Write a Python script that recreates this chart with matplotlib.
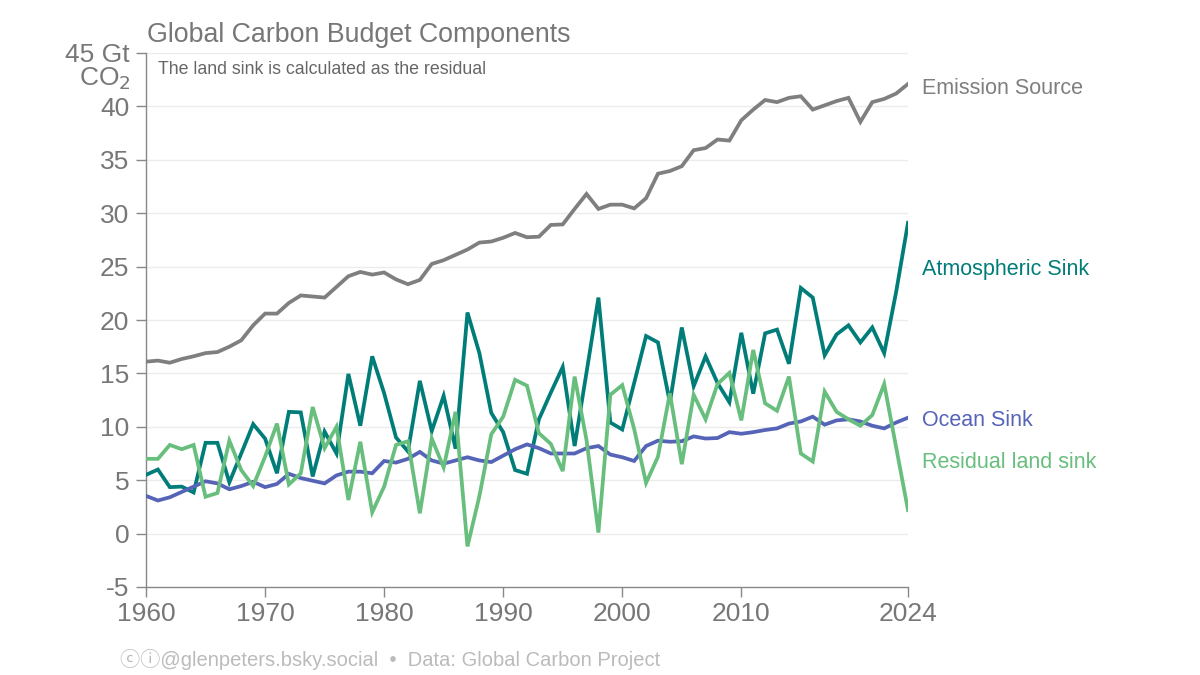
import matplotlib.pyplot as plt
import numpy as np

plt.rcParams['font.family'] = ['Liberation Sans', 'DejaVu Sans']

# ── Data (Gt CO2 / yr) ──────────────────────────────────────────────
years = np.arange(1960, 2025)

emission_source = [
    16.1, 16.2, 16.0, 16.35, 16.6, 16.9, 17.0, 17.5, 18.1, 19.5,
    20.6, 20.6, 21.6, 22.3, 22.2, 22.1, 23.1, 24.1, 24.5, 24.25,
    24.45, 23.8, 23.35, 23.75, 25.25, 25.6, 26.1, 26.6, 27.25, 27.35,
    27.7, 28.15, 27.75, 27.8, 28.9, 28.95, 30.4, 31.8, 30.4, 30.8,
    30.8, 30.45, 31.4, 33.7, 33.95, 34.4, 35.9, 36.1, 36.9, 36.8,
    38.7, 39.7, 40.6, 40.4, 40.8, 40.95, 39.7, 40.1, 40.5, 40.8,
    38.55, 40.4, 40.7, 41.2, 42.1,
]

atmospheric_sink = [
    5.5, 6.0, 4.35, 4.4, 3.85, 8.5, 8.5, 4.8, 7.5, 10.25,
    8.9, 5.65, 11.4, 11.35, 5.35, 9.55, 7.5, 14.95, 10.1, 16.6,
    13.15, 9.0, 7.7, 14.3, 9.6, 12.9, 7.95, 20.7, 16.9, 11.3,
    9.5, 5.95, 5.6, 10.7, 13.2, 15.6, 8.2, 15.1, 22.1, 10.4,
    9.75, 14.1, 18.5, 17.9, 12.25, 19.3, 13.8, 16.6, 14.1, 12.3,
    18.8, 13.1, 18.75, 19.1, 15.9, 23.0, 22.1, 16.7, 18.65, 19.5,
    17.9, 19.3, 16.9, 22.6, 29.1,
]

ocean_sink = [
    3.53, 3.1, 3.4, 3.9, 4.4, 4.9, 4.7, 4.15, 4.45, 4.85,
    4.35, 4.65, 5.6, 5.2, 4.95, 4.7, 5.45, 5.8, 5.8, 5.65,
    6.8, 6.65, 7.0, 7.65, 6.85, 6.55, 6.85, 7.15, 6.85, 6.7,
    7.3, 7.9, 8.35, 8.0, 7.5, 7.5, 7.5, 8.0, 8.2, 7.4,
    7.15, 6.8, 8.2, 8.7, 8.6, 8.65, 9.1, 8.9, 8.95, 9.5,
    9.35, 9.5, 9.7, 9.85, 10.3, 10.5, 10.95, 10.2, 10.6, 10.7,
    10.5, 10.1, 9.85, 10.4, 10.85,
]

residual_land_sink = [
    7.0, 7.0, 8.3, 7.9, 8.3, 3.45, 3.8, 8.7, 5.95, 4.45,
    7.2, 10.3, 4.6, 5.65, 11.85, 8.0, 10.0, 3.15, 8.6, 2.0,
    4.4, 8.3, 8.65, 1.9, 8.9, 6.2, 11.4, -1.2, 3.5, 9.3,
    10.95, 14.4, 13.85, 9.4, 8.4, 5.85, 14.7, 8.75, 0.1, 13.0,
    13.9, 9.8, 4.75, 7.2, 13.15, 6.5, 13.0, 10.7, 14.0, 15.05,
    10.6, 17.2, 12.2, 11.5, 14.7, 7.5, 6.75, 13.3, 11.4, 10.7,
    10.1, 11.1, 14.0, 8.1, 2.2,
]

series = [
    ("Emission Source", emission_source, '#7f7f7f', 88),
    ("Atmospheric Sink", atmospheric_sink, '#007d78', 270),
    ("Ocean Sink", ocean_sink, '#5664b8', 420),
    ("Residual land sink", residual_land_sink, '#68be7c', 462),
]

y_ticks = [-5, 0, 5, 10, 15, 20, 25, 30, 35, 40, 45]
y_labels = ['-5', '0', '5', '10', '15', '20', '25', '30', '35', '40', '45 Gt']
x_ticks = [1960, 1970, 1980, 1990, 2000, 2010, 2024]

GREY = '#777777'

fig = plt.figure(figsize=(12, 6.75), dpi=100, facecolor='white')
ax = fig.add_axes([146 / 1200, 1 - 587 / 675, 762 / 1200, 534 / 675])

for y in range(0, 50, 5):
    ax.axhline(y, color='#ececec', lw=1.0, zorder=0)

for name, vals, col, ypix in series:
    ax.plot(years, vals, color=col, lw=2.7, solid_joinstyle='miter', zorder=3)
    fig.text(922 / 1200, 1 - ypix / 675, name, color=col, fontsize=15.5,
             ha='left', va='center')

ax.set_xlim(1960, 2024)
ax.set_ylim(-5, 45)
ax.set_yticks(y_ticks)
ax.set_yticklabels(y_labels)
ax.set_xticks(x_ticks)
ax.set_xticklabels([str(t) for t in x_ticks])
ax.tick_params(axis='both', colors='#888888', labelcolor=GREY, labelsize=19,
               length=7, width=1.0)
ax.tick_params(axis='y', pad=5)
ax.tick_params(axis='x', pad=4)

for s in ['top', 'right']:
    ax.spines[s].set_visible(False)
for s in ['left', 'bottom']:
    ax.spines[s].set_color('#888888')
    ax.spines[s].set_linewidth(1.0)

fig.text(131 / 1200, 1 - 79 / 675, 'CO$_2$', color=GREY, fontsize=19,
         ha='right', va='center')

fig.text(147 / 1200, 1 - 35 / 675, 'Global Carbon Budget Components',
         color=GREY, fontsize=19.3, ha='left', va='center')
fig.text(158 / 1200, 1 - 70 / 675, 'The land sink is calculated as the residual',
         color='#666666', fontsize=12.8, ha='left', va='center')

fig.text(120 / 1200, 1 - 660 / 675,
         'ⓒⓘ@glenpeters.bsky.social  •  Data: Global Carbon Project',
         color='#bbbbbb', fontsize=14.5, ha='left', va='center',
         family=['Liberation Sans', 'Noto Sans CJK JP', 'DejaVu Sans'])

fig.savefig('out.png', dpi=100, facecolor='white')
